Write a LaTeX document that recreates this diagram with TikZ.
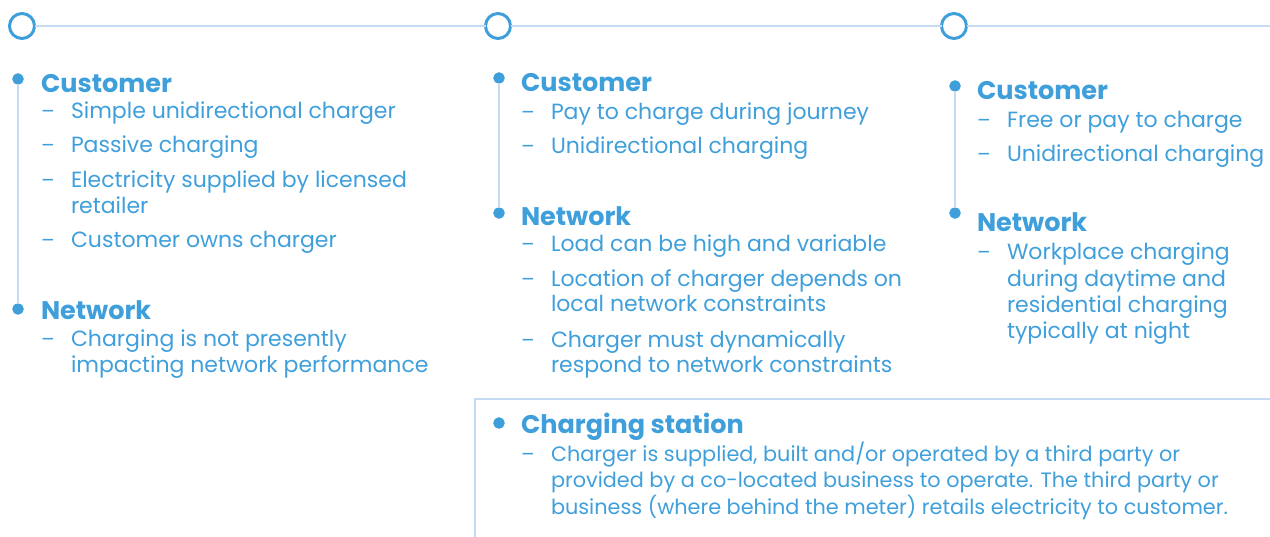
\documentclass[tikz,border=0pt]{standalone}
\usepackage{fontspec}
\setmainfont{Poppins}
\definecolor{tblue}{HTML}{3F9FDB}
\definecolor{tline}{HTML}{C5DAF3}
\begin{document}
\begin{tikzpicture}[x=1pt,y=-1pt,
  every node/.style={inner sep=0pt,outer sep=0pt,text=tblue},
  hd/.style={anchor=base west,font=\fontsize{25.5}{28}\selectfont\bfseries},
  itm/.style={anchor=base west,font=\fontsize{22}{26}\selectfont},
  bxt/.style={anchor=base west,font=\fontsize{20.8}{26}\selectfont},
  dsh/.style={anchor=base west,font=\fontsize{20}{26}\selectfont},
  ring/.style={circle,draw=tblue,line width=3pt,minimum size=25pt,fill=white},
  bulletdot/.style={circle,draw=tblue,fill=tblue,line width=1pt,minimum size=10.5pt},
  rule/.style={draw=tline,line width=2pt}]
\useasboundingbox (0,0) rectangle (1270,537);
% timeline
\node[ring] (c1) at (22,26) {};
\node[ring] (c2) at (498,26) {};
\node[ring] (c3) at (954,26) {};
\coordinate (tend) at (1270,26);
\draw[rule] (c1) -- (c2) -- (c3) -- (tend);
% column 1
\node[bulletdot] (d1a) at (18,79) {};
\node[bulletdot] (d1b) at (18,309) {};
\draw[rule] (d1a) -- (d1b);
\node[hd] (h1a) at (41,93) {Customer};
\node[dsh] (s1a) at (41,119) {–};
\node[itm] (t1a) at (71,119) {Simple unidirectional charger};
\node[dsh] (s1b) at (41,153) {–};
\node[itm] (t1b) at (71,153) {Passive charging};
\node[dsh] (s1c) at (41,188) {–};
\node[itm] (t1c) at (71,188) {Electricity supplied by licensed};
\node[itm] (t1c2) at (71,214) {retailer};
\node[dsh] (s1d) at (41,248) {–};
\node[itm] (t1d) at (71,248) {Customer owns charger};
\node[hd] (h1b) at (41,320) {Network};
\node[dsh] (s1e) at (41,347) {–};
\node[itm] (t1e) at (71,347) {Charging is not presently};
\node[itm] (t1e2) at (71,373) {impacting network performance};
% column 2
\node[bulletdot] (d2a) at (499,78) {};
\node[bulletdot] (d2b) at (499,213) {};
\draw[rule] (d2a) -- (d2b);
\node[hd] (h2a) at (521,92) {Customer};
\node[dsh] (s2a) at (521,120) {–};
\node[itm] (t2a) at (551,120) {Pay to charge during journey};
\node[dsh] (s2b) at (521,154) {–};
\node[itm] (t2b) at (551,154) {Unidirectional charging};
\node[hd] (h2b) at (521,226) {Network};
\node[dsh] (s2c) at (521,252) {–};
\node[itm] (t2c) at (551,252) {Load can be high and variable};
\node[dsh] (s2d) at (521,287) {–};
\node[itm] (t2d) at (551,287) {Location of charger depends on};
\node[itm] (t2d2) at (551,312) {local network constraints};
\node[dsh] (s2e) at (521,348) {–};
\node[itm] (t2e) at (551,348) {Charger must dynamically};
\node[itm] (t2e2) at (551,373) {respond to network constraints};
% column 3
\node[bulletdot] (d3a) at (955,86) {};
\node[bulletdot] (d3b) at (955,213) {};
\draw[rule] (d3a) -- (d3b);
\node[hd] (h3a) at (977,100) {Customer};
\node[dsh] (s3a) at (977,128) {–};
\node[itm] (t3a) at (1007,128) {Free or pay to charge};
\node[dsh] (s3b) at (977,162) {–};
\node[itm] (t3b) at (1007,162) {Unidirectional charging};
\node[hd] (h3b) at (977,232) {Network};
\node[dsh] (s3c) at (977,260) {–};
\node[itm] (t3c) at (1007,260) {Workplace charging};
\node[itm] (t3c2) at (1007,287) {during daytime and};
\node[itm] (t3c3) at (1007,313) {residential charging};
\node[itm] (t3c4) at (1007,339) {typically at night};
% charging station box
\coordinate (bxb) at (475,537);
\coordinate (bxr) at (1270,399);
\draw[rule] (bxb) |- (bxr);
\node[bulletdot] (d4) at (499,423) {};
\node[hd] (h4) at (521,434) {Charging station};
\node[dsh] (s4a) at (521,461) {–};
\node[bxt] (t4a) at (551,461) {Charger is supplied, built and/or operated by a third party or};
\node[bxt] (t4a2) at (551,487) {provided by a co-located business to operate. The third party or};
\node[bxt] (t4a3) at (551,514) {business (where behind the meter) retails electricity to customer.};
\end{tikzpicture}
\end{document}
